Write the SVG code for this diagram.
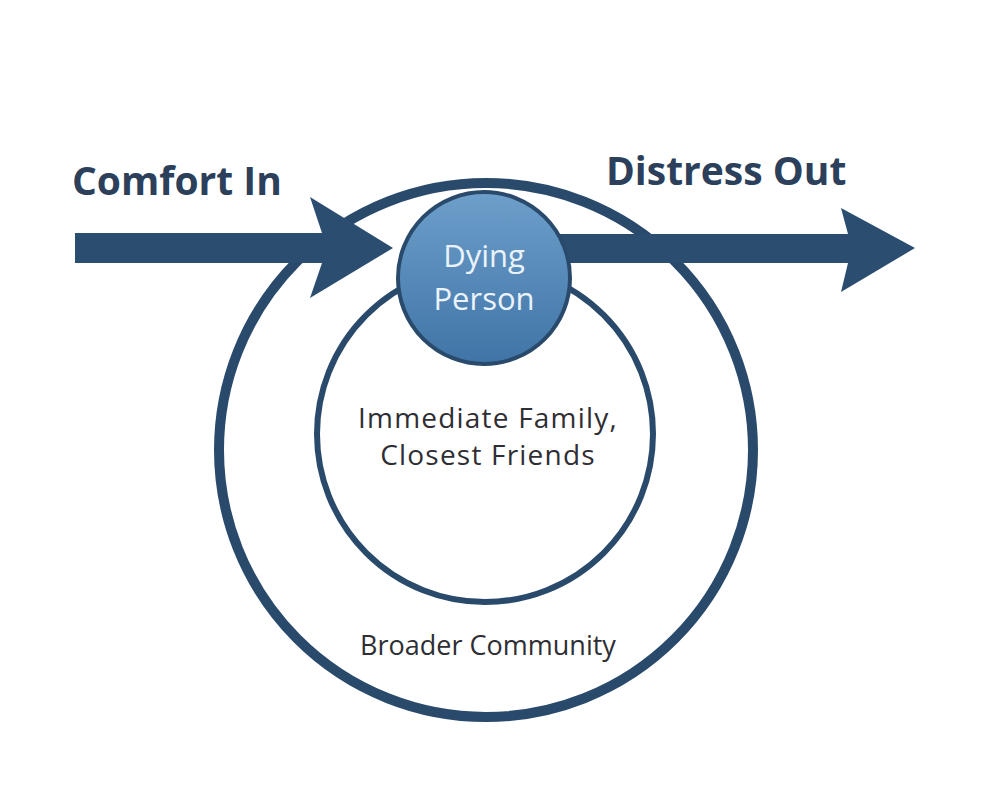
<svg xmlns="http://www.w3.org/2000/svg" width="1000" height="800" viewBox="0 0 1000 800">
<defs>
<linearGradient id="dp" x1="0" y1="0" x2="0" y2="1">
<stop offset="0" stop-color="#6e9fcb"/>
<stop offset="1" stop-color="#3f74a6"/>
</linearGradient>
<style>
.ring{fill:none;stroke:#2a4a6c}
.arrow{fill:#2b4d70}
.title{font-family:"Open Sans",Lato,sans-serif;font-weight:bold;font-size:39px;fill:#2c3f5b}
.lbl{font-family:"Open Sans",Lato,sans-serif;font-size:27px;fill:#2e2e33;text-anchor:middle}
.lbl2{font-family:"Open Sans",Lato,sans-serif;font-size:28px;letter-spacing:1.2px;fill:#2e2e33;text-anchor:middle}
.dp{font-family:"Open Sans",Lato,sans-serif;font-size:31px;fill:#eaf3fb;text-anchor:middle}
</style>
</defs>
<rect width="1000" height="800" fill="#ffffff"/>
<g id="outer-circle">
<circle class="ring" cx="486" cy="450" r="267" stroke-width="10"/>
<text class="lbl" x="488" y="655">Broader Community</text>
</g>
<g id="inner-circle">
<circle class="ring" cx="485" cy="434" r="168" stroke-width="6"/>
<text class="lbl2" x="488" y="428">Immediate Family,</text>
<text class="lbl2" x="488" y="465">Closest Friends</text>
</g>
<g id="connectors">
<path id="comfort-in-arrow" class="arrow" d="M75,233 L322,233 L310,197 L393,248 L310,298 L322,263 L75,263 Z"/>
<path id="distress-out-arrow" class="arrow" d="M555,234 L848,234 L841,208 L915,248 L841,292 L848,263 L555,263 Z"/>
</g>
<g id="comfort-in">
<text class="title" x="72" y="195">Comfort In</text>
</g>
<g id="distress-out">
<text class="title" x="606" y="185" font-size="40" fill="#2d4a63">Distress Out</text>
</g>
<g id="dying-person">
<circle cx="484" cy="278" r="86" fill="url(#dp)" stroke="#2a4a6c" stroke-width="4"/>
<text class="dp" x="484" y="267">Dying</text>
<text class="dp" x="484" y="310">Person</text>
</g>
</svg>
